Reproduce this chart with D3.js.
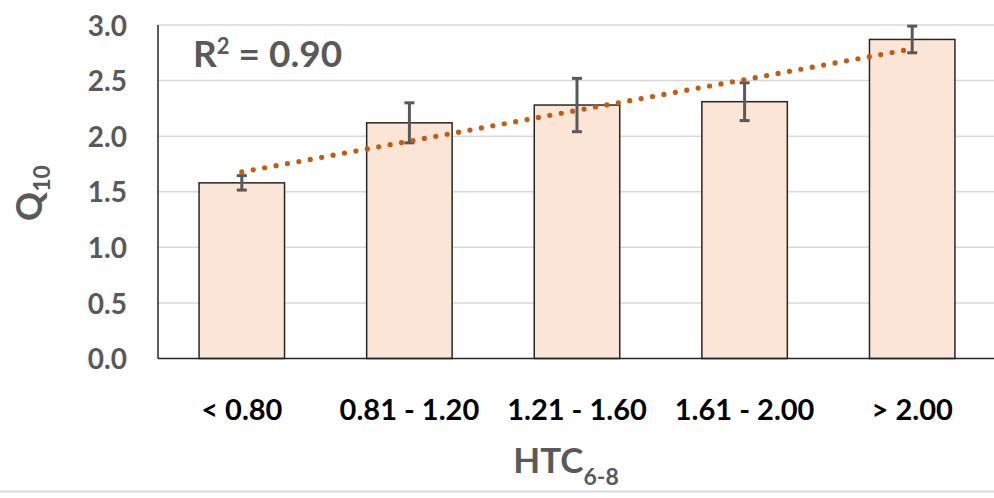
<!DOCTYPE html>
<html>
<head>
<meta charset="utf-8">
<script src="https://cdn.jsdelivr.net/npm/d3@7"></script>
<style>
  body { margin: 0; background: #fff; }
  svg { display: block; font-family: Lato, "Open Sans", sans-serif; font-weight: bold; }
</style>
</head>
<body>
<div id="chart"></div>
<script>
// values
const categories = ['< 0.80', '0.81 - 1.20', '1.21 - 1.60', '1.61 - 2.00', '> 2.00'];
const q10 = [1.58, 2.12, 2.28, 2.31, 2.87];
const q10Err = [0.065, 0.18, 0.24, 0.17, 0.12];
const yTicks = [0, 0.5, 1.0, 1.5, 2.0, 2.5, 3.0];
const r2Label = '0.90';

const svgWidth = 994,
      svgHeight = 498,
      margin = {top: 25, right: -2, bottom: 139.5, left: 158},
      width = svgWidth - margin.left - margin.right,
      height = svgHeight - margin.top - margin.bottom;

const svg = d3.select('#chart')
    .append('svg')
    .attr('width', svgWidth)
    .attr('height', svgHeight);

// light border line at the bottom of the chart area
svg.append('line')
    .attr('x1', 0).attr('x2', svgWidth)
    .attr('y1', 491.5).attr('y2', 491.5)
    .attr('stroke', '#d9d9d9')
    .attr('stroke-width', 2);

const g = svg.append('g')
    .attr('transform', `translate(${margin.left}, ${margin.top})`);

const xScale = d3.scaleBand()
    .domain(categories)
    .range([0, width])
    .paddingInner(0.49)
    .paddingOuter(0.245);

const yScale = d3.scaleLinear()
    .domain([0, 3])
    .range([height, 0]);

// gridlines
g.append('g')
    .selectAll('line')
    .data(yTicks.filter(d => d > 0))
    .enter()
    .append('line')
    .attr('x1', 0)
    .attr('x2', width)
    .attr('y1', d => yScale(d))
    .attr('y2', d => yScale(d))
    .attr('stroke', '#d9d9d9')
    .attr('stroke-width', 1.5);

// y axis labels
const yAxis = g.append('g')
    .call(d3.axisLeft(yScale).tickValues(yTicks).tickFormat(d3.format('.1f')).tickSize(0).tickPadding(31));
yAxis.select('.domain').remove();
yAxis.selectAll('text')
    .attr('fill', '#595959')
    .style('font-size', '28px')
    .style('font-family', 'Lato, sans-serif')
    .style('font-weight', 'bold')
    .attr('dy', '0.36em');

// bars
const data = categories.map((c, i) => ({cat: c, value: q10[i], err: q10Err[i]}));

g.selectAll('.bar')
    .data(data)
    .enter()
    .append('rect')
    .attr('class', 'bar')
    .attr('x', d => xScale(d.cat))
    .attr('y', d => yScale(d.value))
    .attr('width', xScale.bandwidth())
    .attr('height', d => height - yScale(d.value))
    .attr('fill', '#fbe5d6')
    .attr('stroke', '#262626')
    .attr('stroke-width', 1.5);

// axis lines
g.append('line')
    .attr('x1', 0).attr('x2', 0)
    .attr('y1', 0).attr('y2', height)
    .attr('stroke', '#262626')
    .attr('stroke-width', 1.5);
g.append('line')
    .attr('x1', 0).attr('x2', width)
    .attr('y1', height).attr('y2', height)
    .attr('stroke', '#262626')
    .attr('stroke-width', 1.5);

// error bars
const cx = d => xScale(d.cat) + xScale.bandwidth() / 2;
const errG = g.selectAll('.err')
    .data(data)
    .enter()
    .append('g')
    .attr('class', 'err')
    .attr('stroke', '#595959')
    .attr('stroke-width', 3);
errG.append('line')
    .attr('x1', cx).attr('x2', cx)
    .attr('y1', d => yScale(d.value + d.err))
    .attr('y2', d => yScale(d.value - d.err));
errG.append('line')
    .attr('x1', d => cx(d) - 5).attr('x2', d => cx(d) + 5)
    .attr('y1', d => yScale(d.value + d.err))
    .attr('y2', d => yScale(d.value + d.err));
errG.append('line')
    .attr('x1', d => cx(d) - 5).attr('x2', d => cx(d) + 5)
    .attr('y1', d => yScale(d.value - d.err))
    .attr('y2', d => yScale(d.value - d.err));

// linear trendline (least squares over category index)
const xs = q10.map((d, i) => i + 1);
const mx = d3.mean(xs), my = d3.mean(q10);
const slope = d3.sum(xs, (x, i) => (x - mx) * (q10[i] - my)) / d3.sum(xs, x => (x - mx) ** 2);
const intercept = my - slope * mx;
const trend = [1, xs.length].map(x => ({x: x, y: intercept + slope * x}));

const idxToPx = d3.scaleLinear()
    .domain([1, categories.length])
    .range([cx(data[0]), cx(data[data.length - 1])]);

g.append('path')
    .datum(trend)
    .attr('fill', 'none')
    .attr('stroke', '#c55a11')
    .attr('stroke-width', 5.2)
    .attr('stroke-linecap', 'round')
    .attr('stroke-dasharray', '0 11.6')
    .attr('d', d3.line().x(d => idxToPx(d.x)).y(d => yScale(d.y)));

// x axis labels
const xAxis = g.append('g')
    .attr('transform', `translate(0, ${height})`)
    .call(d3.axisBottom(xScale).tickSize(0).tickPadding(0));
xAxis.select('.domain').remove();
xAxis.selectAll('text')
    .attr('fill', '#000')
    .attr('y', 61.5)
    .attr('dy', 0)
    .style('font-size', '29px')
    .style('font-family', 'Lato, sans-serif')
    .style('font-weight', 'bold');

// R² annotation
const r2 = svg.append('text')
    .attr('x', 193)
    .attr('y', 67)
    .attr('fill', '#595959')
    .style('font-size', '37px');
r2.append('tspan').text('R');
r2.append('tspan').text('2').attr('dy', -13).style('font-size', '22px');
r2.append('tspan').text(' = ' + r2Label).attr('dy', 13);

// y axis title
const yTitle = svg.append('text')
    .attr('transform', 'translate(42, 193) rotate(-90)')
    .attr('text-anchor', 'middle')
    .attr('fill', '#595959')
    .style('font-size', '36px');
yTitle.append('tspan').text('Q');
yTitle.append('tspan').text('10').attr('dy', 8).style('font-size', '23px');

// x axis title
const xTitle = svg.append('text')
    .attr('x', 566)
    .attr('y', 473)
    .attr('text-anchor', 'middle')
    .attr('fill', '#595959')
    .style('font-size', '35px');
xTitle.append('tspan').text('HTC');
xTitle.append('tspan').text('6-8').attr('dy', 12).style('font-size', '23px');
</script>
</body>
</html>
